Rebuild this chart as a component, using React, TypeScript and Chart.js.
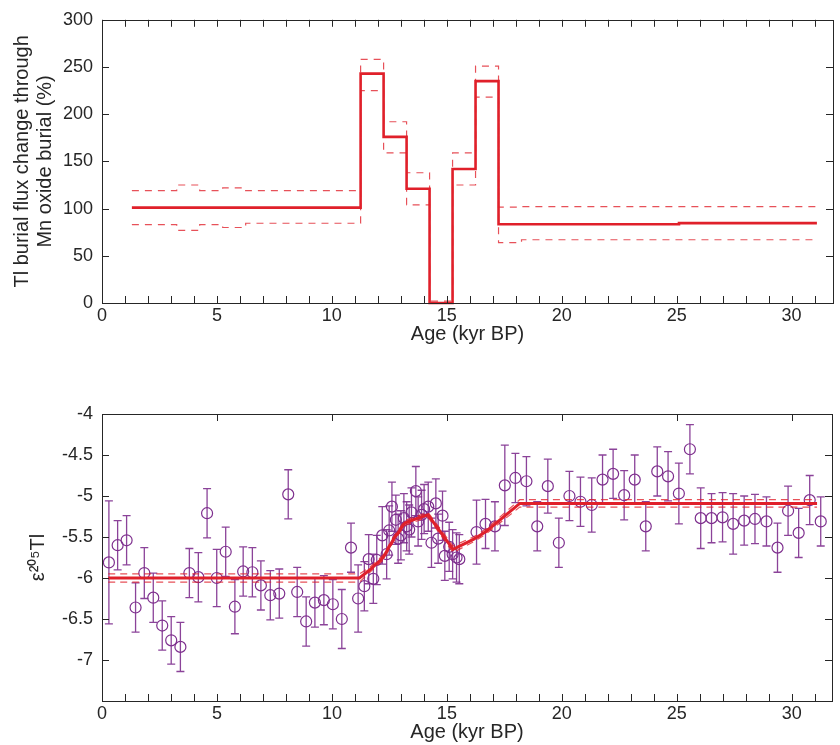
import React, { useEffect, useRef } from "react";
import { Chart, registerables } from "chart.js";

Chart.register(...registerables);

const FONT = "'Liberation Sans', Arial, sans-serif";
const INK = "#262626";
const RED = "#e0202a";
const RED_DASH = "rgba(224,32,42,0.78)";
const PURPLE = "#7e2f8e";
const PURPLE_BAR = "rgba(126,47,142,0.9)";

// ---------- shared axis ticks ----------
const ageTickLabels = [0, 5, 10, 15, 20, 25, 30];
const ageMinorTicks = [0, 1, 2, 3, 4, 5, 6, 7, 8, 9, 10, 11, 12, 13, 14, 15, 16, 17, 18, 19, 20, 21, 22, 23, 24, 25, 26, 27, 28, 29, 30, 31];

// ---------- top panel: Tl burial flux change ----------
const fluxTicks = [0, 50, 100, 150, 200, 250, 300];
const fluxAge = [1.3, 11.25, 12.25, 13.25, 14.25, 15.25, 16.25, 17.25, 25.1, 31.1];
const fluxMain = [101, 243, 176, 121, 0, 142, 235, 83.5, 84.6, 84.6];
const fluxBandAge = [1.3, 3.25, 4.25, 5.25, 6.25, 11.25, 12.25, 13.25, 14.25, 15.25, 16.25, 17.25, 18.25, 31.1];
const fluxUpper = [119, 125, 119, 122, 119, 258, 192, 138, 2, 159, 251, 101.5, 102, 102.4];
const fluxLower = [83, 77, 83, 80, 84.5, 225, 159, 104, 0, 125, 218, 64, 67, 67.5];

// ---------- bottom panel: epsilon 205Tl ----------
const epsTicks = [-7, -6.5, -6, -5.5, -5, -4.5, -4];
const sampleAge = [0.30, 0.68, 1.07, 1.46, 1.84, 2.23, 2.62, 3.01, 3.41, 3.80, 4.19, 4.57, 4.99, 5.38, 5.78, 6.14, 6.54, 6.91, 7.32, 7.71, 8.10, 8.49, 8.88, 9.26, 9.65, 10.04, 10.43, 10.83, 11.14, 11.41, 11.60, 11.80, 11.95, 12.19, 12.38, 12.49, 12.61, 12.78, 12.88, 13.00, 13.13, 13.25, 13.36, 13.46, 13.65, 13.75, 13.90, 14.01, 14.19, 14.33, 14.52, 14.62, 14.81, 14.91, 15.10, 15.25, 15.42, 15.54, 16.29, 16.68, 17.09, 17.52, 17.98, 18.46, 18.93, 19.39, 19.87, 20.33, 20.81, 21.30, 21.77, 22.23, 22.71, 23.17, 23.65, 24.15, 24.62, 25.09, 25.57, 26.04, 26.51, 26.99, 27.45, 27.93, 28.40, 28.90, 29.38, 29.84, 30.30, 30.78, 31.26];
const sampleEps = [-5.81, -5.60, -5.54, -6.36, -5.94, -6.24, -6.58, -6.76, -6.84, -5.94, -5.99, -5.21, -6.00, -5.68, -6.35, -5.92, -5.93, -6.09, -6.21, -6.19, -4.98, -6.17, -6.53, -6.30, -6.27, -6.32, -6.50, -5.63, -6.25, -6.10, -5.77, -6.01, -5.78, -5.48, -5.71, -5.42, -5.13, -5.29, -5.52, -5.48, -5.27, -5.37, -5.41, -5.20, -4.94, -5.31, -5.23, -5.16, -5.13, -5.57, -5.09, -5.52, -5.24, -5.73, -5.62, -5.71, -5.75, -5.77, -5.44, -5.34, -5.37, -4.87, -4.78, -4.82, -5.37, -4.88, -5.57, -5.00, -5.07, -5.11, -4.80, -4.73, -4.99, -4.80, -5.37, -4.70, -4.76, -4.97, -4.43, -5.27, -5.27, -5.26, -5.34, -5.30, -5.28, -5.31, -5.63, -5.18, -5.45, -5.05, -5.31];
const sampleErr = [0.75, 0.30, 0.30, 0.30, 0.31, 0.30, 0.30, 0.29, 0.30, 0.30, 0.30, 0.30, 0.35, 0.30, 0.33, 0.30, 0.30, 0.30, 0.30, 0.30, 0.30, 0.30, 0.30, 0.30, 0.30, 0.30, 0.36, 0.30, 0.41, 0.30, 0.30, 0.30, 0.30, 0.35, 0.30, 0.30, 0.30, 0.30, 0.30, 0.30, 0.30, 0.30, 0.30, 0.30, 0.30, 0.30, 0.30, 0.30, 0.30, 0.30, 0.30, 0.30, 0.30, 0.30, 0.30, 0.30, 0.30, 0.30, 0.39, 0.30, 0.30, 0.49, 0.30, 0.30, 0.30, 0.33, 0.30, 0.30, 0.30, 0.33, 0.30, 0.30, 0.30, 0.30, 0.30, 0.30, 0.30, 0.37, 0.30, 0.37, 0.30, 0.30, 0.37, 0.30, 0.30, 0.30, 0.30, 0.30, 0.30, 0.30, 0.30];
const modelAge = [0.27, 11.2, 11.65, 12.23, 12.67, 13.17, 13.54, 14.18, 15.27, 16.15, 16.72, 18.17, 31.1];
const modelEps = [-6.0, -6.0, -5.9, -5.75, -5.53, -5.33, -5.29, -5.23, -5.65, -5.53, -5.43, -5.09, -5.09];
const modelUpper = [-5.95, -5.95, -5.87, -5.72, -5.5, -5.3, -5.26, -5.2, -5.61, -5.5, -5.4, -5.045, -5.045];
const modelLower = [-6.05, -6.05, -5.93, -5.78, -5.56, -5.36, -5.32, -5.26, -5.69, -5.56, -5.46, -5.135, -5.135];

const pts = (xs: number[], ys: number[]) => xs.map((x, i) => ({ x, y: ys[i] }));

const frameTicks = {
  id: "frameTicks",
  afterDraw(chart: any, _args: any, opts: any) {
    const { ctx, chartArea: a, scales } = chart;
    const xs = scales.x;
    const ys = scales.y;
    const L = 7;
    ctx.save();
    ctx.strokeStyle = INK;
    ctx.lineWidth = 1;
    ctx.beginPath();
    for (const v of opts.xBottom || []) {
      const p = Math.round(xs.getPixelForValue(v)) + 0.5;
      ctx.moveTo(p, a.bottom);
      ctx.lineTo(p, a.bottom - L);
    }
    for (const v of opts.xTop || []) {
      const p = Math.round(xs.getPixelForValue(v)) + 0.5;
      ctx.moveTo(p, a.top);
      ctx.lineTo(p, a.top + L);
    }
    for (const v of opts.yTicks || []) {
      const p = Math.round(ys.getPixelForValue(v)) + 0.5;
      ctx.moveTo(a.left, p);
      ctx.lineTo(a.left + L, p);
      ctx.moveTo(a.right, p);
      ctx.lineTo(a.right - L, p);
    }
    ctx.stroke();
    ctx.strokeRect(Math.round(a.left) + 0.5, Math.round(a.top) + 0.5, Math.round(a.right - a.left), Math.round(a.bottom - a.top));
    ctx.restore();
  },
};

const errorBars = {
  id: "errorBars",
  beforeDatasetsDraw(chart: any, _args: any, opts: any) {
    if (opts.datasetIndex === undefined) return;
    const { ctx, scales } = chart;
    const meta = chart.getDatasetMeta(opts.datasetIndex);
    const ds = chart.data.datasets[opts.datasetIndex];
    const errs: number[] = opts.errors;
    ctx.save();
    ctx.strokeStyle = PURPLE_BAR;
    ctx.lineWidth = 1.3;
    const cap = 4;
    meta.data.forEach((el: any, i: number) => {
      const v = (ds.data[i] as any).y;
      const x = el.x;
      const y1 = scales.y.getPixelForValue(v + errs[i]);
      const y2 = scales.y.getPixelForValue(v - errs[i]);
      ctx.beginPath();
      ctx.moveTo(x, y1);
      ctx.lineTo(x, y2);
      ctx.moveTo(x - cap, y1);
      ctx.lineTo(x + cap, y1);
      ctx.moveTo(x - cap, y2);
      ctx.lineTo(x + cap, y2);
      ctx.stroke();
    });
    ctx.restore();
  },
};

const tickFont = { family: FONT, size: 18 };
const titleFont = { family: FONT, size: 20, lineHeight: 1.15 };

function xAxis(max: number, axisHeight: number, titlePadBottom: number) {
  return {
    type: "linear",
    min: 0,
    max,
    grid: { display: false, drawTicks: false },
    border: { display: false },
    afterBuildTicks: (s: any) => {
      s.ticks = ageTickLabels.map((v) => ({ value: v }));
    },
    afterFit: (s: any) => {
      s.height = axisHeight;
    },
    ticks: {
      font: tickFont,
      color: INK,
      padding: 2,
      maxRotation: 0,
      autoSkip: false,
      callback: (v: any) => String(v),
    },
    title: {
      display: true,
      text: "Age (kyr BP)",
      font: { family: FONT, size: 20, lineHeight: 1.2 },
      color: INK,
      padding: { top: 0, bottom: titlePadBottom },
    },
  };
}

function yAxis(min: number, max: number, tickVals: number[], title: any, titlePadTop: number) {
  return {
    type: "linear",
    min,
    max,
    grid: { display: false, drawTicks: false },
    border: { display: false },
    afterBuildTicks: (s: any) => {
      s.ticks = tickVals.map((v) => ({ value: v }));
    },
    afterFit: (s: any) => {
      s.width = 102;
    },
    ticks: {
      font: tickFont,
      color: INK,
      padding: 9,
      autoSkip: false,
      callback: (v: any) => String(v),
    },
    title: {
      display: true,
      text: title,
      font: titleFont,
      color: INK,
      padding: { top: titlePadTop, bottom: 0 },
    },
  };
}

function TopChart() {
  const ref = useRef<HTMLCanvasElement | null>(null);
  useEffect(() => {
    const chart = new Chart(ref.current as HTMLCanvasElement, {
      type: "line",
      data: {
        datasets: [
          {
            data: pts(fluxAge, fluxMain),
            stepped: "before",
            borderColor: RED,
            borderWidth: 2.6,
            pointRadius: 0,
            fill: false,
            clip: 6,
            order: 0,
          } as any,
          {
            data: pts(fluxBandAge, fluxUpper),
            stepped: "before",
            borderColor: RED_DASH,
            borderWidth: 1.2,
            borderDash: [7, 6],
            pointRadius: 0,
            fill: false,
            clip: 6,
            order: 1,
          },
          {
            data: pts(fluxBandAge, fluxLower),
            stepped: "before",
            borderColor: RED_DASH,
            borderWidth: 1.2,
            borderDash: [7, 6],
            pointRadius: 0,
            fill: false,
            clip: 6,
            order: 1,
          },
        ],
      },
      options: {
        responsive: false,
        animation: false,
        layout: { padding: { top: 16, right: 7, left: 0, bottom: 0 } },
        plugins: {
          legend: { display: false },
          tooltip: { enabled: false },
          frameTicks: { xBottom: ageMinorTicks, xTop: ageMinorTicks, yTicks: fluxTicks },
        } as any,
        scales: {
          x: xAxis(31.8, 69, 26) as any,
          y: yAxis(0, 300, fluxTicks, ["Tl burial flux change through", "Mn oxide burial (%)"], 11) as any,
        },
      },
      plugins: [frameTicks],
    });
    return () => chart.destroy();
  }, []);
  return <canvas ref={ref} width={840} height={372} style={{ position: "absolute", left: 0, top: 0, width: 840, height: 372 }} />;
}

function BottomChart() {
  const ref = useRef<HTMLCanvasElement | null>(null);
  useEffect(() => {
    const chart = new Chart(ref.current as HTMLCanvasElement, {
      type: "line",
      data: {
        datasets: [
          {
            data: pts(modelAge, modelEps),
            borderColor: RED,
            borderWidth: 3,
            pointRadius: 0,
            tension: 0,
            fill: false,
            order: 0,
          },
          {
            data: pts(modelAge, modelUpper),
            borderColor: RED_DASH,
            borderWidth: 1.2,
            borderDash: [7, 5],
            pointRadius: 0,
            fill: false,
            order: 1,
          },
          {
            data: pts(modelAge, modelLower),
            borderColor: RED_DASH,
            borderWidth: 1.2,
            borderDash: [7, 5],
            pointRadius: 0,
            fill: false,
            order: 1,
          },
          {
            data: pts(sampleAge, sampleEps),
            showLine: false,
            pointStyle: "circle",
            pointRadius: 5.5,
            pointBorderWidth: 1.2,
            pointBorderColor: PURPLE,
            pointBackgroundColor: "rgba(0,0,0,0)",
            borderColor: PURPLE,
            order: 2,
          },
        ],
      },
      options: {
        responsive: false,
        animation: false,
        layout: { padding: { top: 42, right: 8, left: 0, bottom: 0 } },
        plugins: {
          legend: { display: false },
          tooltip: { enabled: false },
          frameTicks: { xBottom: ageMinorTicks, xTop: ageTickLabels, yTicks: [-7.5, ...epsTicks] },
          errorBars: { datasetIndex: 3, errors: sampleErr },
        } as any,
        scales: {
          x: xAxis(31.75, 44, 1) as any,
          y: yAxis(-7.5, -4, epsTicks, "ε²⁰⁵Tl", 27) as any,
        },
      },
      plugins: [frameTicks, errorBars],
    });
    return () => chart.destroy();
  }, []);
  return <canvas ref={ref} width={840} height={373} style={{ position: "absolute", left: 0, top: 372, width: 840, height: 373 }} />;
}

export default function App() {
  return (
    <div style={{ position: "absolute", left: 0, top: 0, width: 840, height: 745, background: "#fff" }}>
      <TopChart />
      <BottomChart />
    </div>
  );
}
